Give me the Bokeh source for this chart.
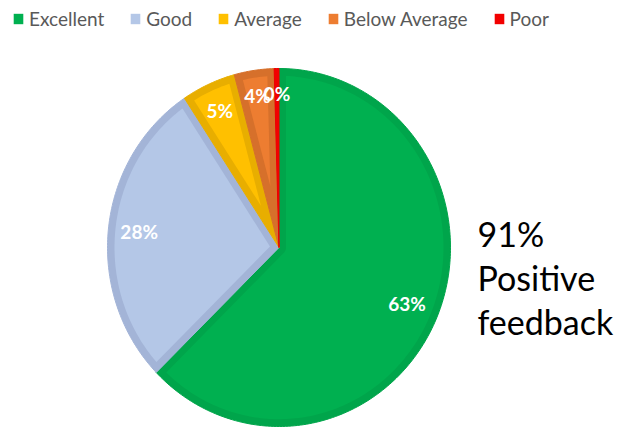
import numpy as np
from bokeh.plotting import figure
from bokeh.models import Range1d, ColumnDataSource, Legend, LegendItem
from bokeh.core.properties import value
from bokeh.embed import file_html
from bokeh.resources import INLINE

# ---- data ----
categories = ["Excellent", "Good", "Average", "Below Average", "Poor"]
values = [62.7, 28.0, 5.1, 3.75, 0.45]
pct_labels = [f"{round(v)}%" for v in values]
fill_colors = ["#00B050", "#B4C7E7", "#FFC000", "#ED7D31", "#F20000"]
band_colors = ["#00A54B", "#A3B4D7", "#E8AE00", "#D6702B", "#E80000"]
label_radius = [0.81, 0.82, 0.84, 0.86, 0.86]
summary_lines = ["91%", "Positive", "feedback"]

# ---- layout (page pixel coordinates) ----
W, H = 618, 429
cx, cy = 278.5, 247.0
rx, ry = 171.5, 179.0
band = 7.0
k = ry / rx


def to_page(phi, rad):
    u = rad * np.cos(phi)
    v = rad * np.sin(phi)
    return cx + u, cy - v * k


def arc(a_from, a_to, rad, n=None):
    if n is None:
        n = max(2, int(abs(a_to - a_from) / (np.pi / 180)) + 2)
    t = np.linspace(a_from, a_to, n)
    return to_page(t, rad)


total = sum(values)
fracs = [v / total for v in values]
cum = np.concatenate([[0.0], np.cumsum(fracs)])

outer_xs, outer_ys, inner_xs, inner_ys = [], [], [], []
lab_x, lab_y = [], []
r = rx
for i, f in enumerate(fracs):
    th0, th1 = cum[i] * 2 * np.pi, cum[i + 1] * 2 * np.pi
    s, e = np.pi / 2 - th1, np.pi / 2 - th0
    span = e - s
    ax, ay = arc(s, e, r)
    ox = np.concatenate([[cx], ax])
    oy = np.concatenate([[cy], ay])
    outer_xs.append(list(ox))
    outer_ys.append(list(oy))

    delta = np.arcsin(band / (r - band))
    ix, iy = None, None
    if span >= np.pi:
        l1x, l1y = to_page(s + np.pi / 2, band)
        bx, by = arc(s + delta, e - delta, r - band)
        sx, sy = arc(e - np.pi / 2, s + np.pi / 2, band, n=20)
        ix = np.concatenate([[l1x], bx, sx])
        iy = np.concatenate([[l1y], by, sy])
    elif span / 2 > delta * 1.05:
        pd = band / np.sin(span / 2)
        if pd < r - band:
            px, py = to_page((s + e) / 2, pd)
            bx, by = arc(s + delta, e - delta, r - band)
            ix = np.concatenate([[px], bx])
            iy = np.concatenate([[py], by])
    if ix is None:
        ix, iy = ox, oy
    inner_xs.append(list(ix))
    inner_ys.append(list(iy))

    mid = (s + e) / 2
    lx, ly = to_page(mid, label_radius[i] * r)
    lab_x.append(lx)
    lab_y.append(ly)

p = figure(width=W, height=H, x_range=Range1d(0, W), y_range=Range1d(H, 0),
           output_backend="svg", toolbar_location=None, min_border=0,
           x_axis_location=None, y_axis_location=None, outline_line_color=None)
p.grid.visible = False
p.background_fill_color = "white"

outer_src = ColumnDataSource(dict(xs=outer_xs, ys=outer_ys, color=band_colors))
p.patches("xs", "ys", source=outer_src, fill_color="color", line_color="color", line_width=1)

items = []
for i, cat in enumerate(categories):
    rend = p.patch(inner_xs[i], inner_ys[i], fill_color=fill_colors[i], line_color=None)
    items.append(LegendItem(label=cat, renderers=[rend]))

p.text(x=lab_x, y=lab_y, text=pct_labels, text_color="white",
       text_font=value("Lato"), text_font_style="bold", text_font_size="19px",
       text_align="center", text_baseline="middle")

base_y, gap = 233, 44
p.text(x=[477] * len(summary_lines), y=[base_y + i * gap for i in range(len(summary_lines))],
       text=summary_lines, text_color="black", text_font=value("Lato"),
       text_font_size="34px", text_align="left", text_baseline="alphabetic")

legend = Legend(items=items, orientation="horizontal", location=(12, H - 30),
                glyph_width=12, glyph_height=13, label_standoff=5, spacing=25,
                padding=0, margin=0, border_line_color=None, background_fill_alpha=0,
                label_text_font="Lato", label_text_font_size="19px",
                label_text_color="#595959", label_height=13)
p.add_layout(legend)

open("out.html", "w").write(file_html(p, INLINE))
